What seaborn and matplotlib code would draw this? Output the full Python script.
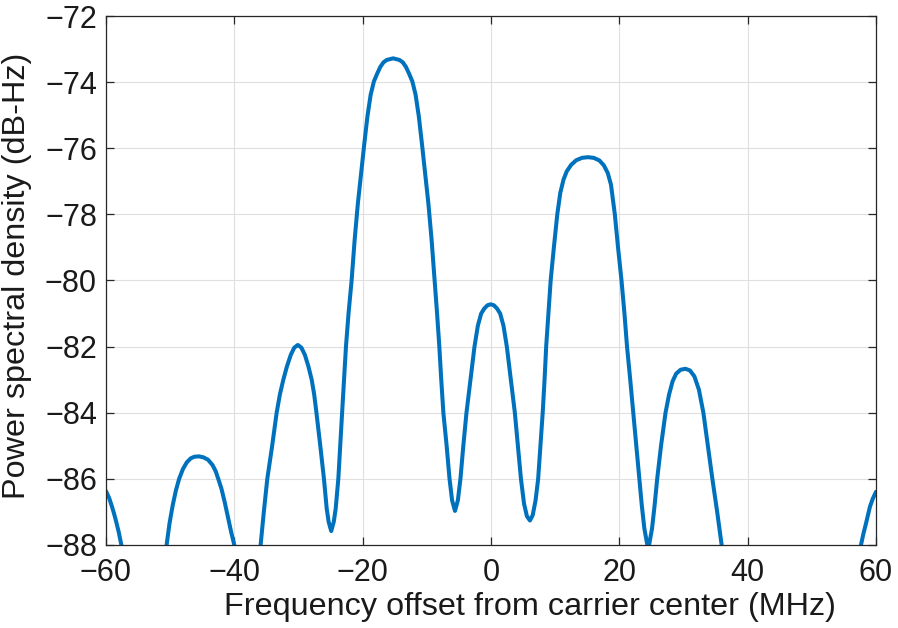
import matplotlib
matplotlib.use("Agg")
import matplotlib.pyplot as plt
import seaborn as sns
import pandas as pd

# ==== values (MHz, dB-Hz)
# points below -88 are outside the visible window, the axes clip them
freq_mhz = [
    # edge lobe at -60
    -60.0, -59.5, -59.06, -58.7, -58.4, -58.0, -57.6, -57.2,
    # lobe at -45
    -51.0, -50.55, -50.1, -49.6, -49.1, -48.6, -48.0, -47.4, -46.8, -46.2,
    -45.5, -44.8, -44.1, -43.4, -42.9, -42.5, -42.0, -41.5, -41.0, -40.5,
    -40.0, -39.6, -39.3,
    # lobe at -30
    -36.5, -35.9, -35.4, -34.86, -34.1, -33.4, -32.9, -32.36, -31.8, -31.2,
    -30.65, -30.1, -29.55, -29.0, -28.45, -27.94, -27.55, -27.2, -26.6, -26.03,
    -25.6, -25.3, -24.9, -24.5, -24.2, -23.79,
    # main lobe at -15
    -23.5, -23.2, -22.9, -22.6, -22.2, -21.72, -21.25, -20.75, -20.25, -19.75,
    -19.25, -18.75, -18.25, -17.75, -17.25, -16.75, -16.25, -15.25, -14.25, -13.75,
    -13.25, -12.75, -12.25, -11.75, -11.25, -10.75, -10.25, -9.75, -9.25, -8.78,
    -8.4, -8.05, -7.75, -7.42, -6.91, -6.46, -6.06, -5.61, -5.16, -4.76,
    # lobe at 0
    -4.31, -3.82, -3.2, -2.57, -2.05, -1.53, -1.05, -0.55, -0.05, 0.45,
    0.95, 1.43, 1.95, 2.47, 3.1, 3.72, 4.2, 4.67, 5.15, 5.6,
    6.07, 6.5, 6.95, 7.35, 7.7, 8.06, 8.35, 8.6, 8.95, 9.3,
    # lobe at +15
    9.8, 10.33, 10.8, 11.3, 11.8, 12.5, 13.3, 14.2, 15.1, 16.0,
    16.9, 17.6, 18.2, 18.7, 19.3, 19.8, 20.34, 20.8, 21.2, 21.7,
    22.17, 22.65, 23.1, 23.5, 23.9, 24.5, 25.1, 25.5, 25.9, 26.5,
    # lobe at +30
    27.2, 27.75, 28.3, 28.85, 29.55, 30.3, 31.0, 31.7, 32.4, 33.1,
    33.8, 34.5, 35.25, 35.95, 36.5,
    # edge lobe at +60
    57.2, 57.66, 58.05, 58.44, 59.06, 59.5, 60.0,
]
psd_db = [
    -86.37, -86.58, -86.84, -87.08, -87.3, -87.62, -88.0, -88.6,
    -88.7, -88.0, -87.35, -86.8, -86.35, -86.0, -85.7, -85.5, -85.38, -85.33,
    -85.32, -85.35, -85.42, -85.58, -85.77, -86.0, -86.3, -86.7, -87.15, -87.6,
    -88.0, -88.4, -89.0,
    -89.0, -88.0, -87.0, -86.0, -85.0, -84.0, -83.45, -83.0, -82.6, -82.25,
    -82.03, -81.95, -82.03, -82.25, -82.6, -83.0, -83.45, -84.0, -85.0, -86.0,
    -86.9, -87.3, -87.58, -87.3, -86.9, -86.0,
    -85.0, -84.0, -83.0, -82.0, -81.0, -80.0, -78.78, -77.68, -76.78, -75.88,
    -75.03, -74.38, -73.98, -73.75, -73.54, -73.4, -73.33, -73.28, -73.33, -73.4,
    -73.54, -73.75, -73.98, -74.38, -75.03, -75.88, -76.78, -77.68, -78.78, -80.0,
    -81.0, -82.0, -83.0, -84.0, -85.0, -86.0, -86.65, -86.97, -86.65, -86.0,
    -85.0, -84.0, -83.0, -82.0, -81.37, -81.0, -80.85, -80.75, -80.72, -80.75,
    -80.85, -81.0, -81.37, -82.0, -83.0, -84.0, -85.0, -86.0, -86.75, -87.13,
    -87.26, -87.1, -86.65, -86.0, -85.0, -84.0, -83.0, -82.0, -81.0, -80.0,
    -79.0, -78.0, -77.35, -76.95, -76.7, -76.5, -76.36, -76.29, -76.27, -76.29,
    -76.37, -76.52, -76.75, -77.1, -78.0, -79.0, -80.0, -81.0, -82.0, -83.0,
    -84.0, -85.0, -86.0, -86.8, -87.5, -88.15, -87.5, -86.8, -86.0, -85.0,
    -84.0, -83.45, -83.05, -82.82, -82.7, -82.67, -82.72, -82.9, -83.3, -84.0,
    -85.0, -86.0, -87.0, -88.0, -88.8,
    -88.6, -88.0, -87.65, -87.35, -86.84, -86.6, -86.39,
]
x_ticks = [-60, -40, -20, 0, 20, 40, 60]
y_ticks = [-88, -86, -84, -82, -80, -78, -76, -74, -72]

df = pd.DataFrame({"freq": freq_mhz, "psd": psd_db})

sns.set_theme(style="ticks")
plt.rcParams["font.family"] = ["Liberation Sans", "DejaVu Sans"]

fig = plt.figure(figsize=(8.98, 6.28), dpi=100)
ax = fig.add_axes([0.118, 0.1322, 0.8575, 0.8423])

sns.lineplot(data=df, x="freq", y="psd", ax=ax, sort=False, estimator=None,
             color="#0072BD", linewidth=2.9)

ax.set_xlim(-60, 60)
ax.set_ylim(-88, -72)
ax.set_xticks(x_ticks)
ax.set_yticks(y_ticks)
ax.grid(True, color="#dfdfdf", linewidth=0.8)
ax.set_axisbelow(True)

for s in ax.spines.values():
    s.set_visible(True)
    s.set_color("#262626")
    s.set_linewidth(0.9)

ax.tick_params(axis="both", direction="in", length=6, width=0.9,
               top=True, right=True, color="#262626",
               labelsize=22, labelcolor="#1a1a1a")
ax.tick_params(axis="x", pad=9.4)
ax.tick_params(axis="y", pad=6.5)

ax.set_xlabel("Frequency offset from carrier center (MHz)", fontsize=23.3, color="#1a1a1a")
ax.set_ylabel("Power spectral density (dB-Hz)", fontsize=23.3, color="#1a1a1a")
ax.xaxis.set_label_coords(0.551, -0.089)
ax.yaxis.set_label_coords(-0.096, 0.508)

fig.savefig("out.png", dpi=100)
